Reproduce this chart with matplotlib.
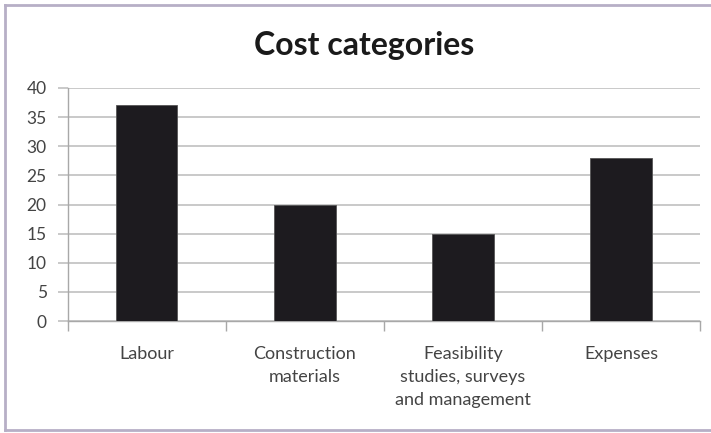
import matplotlib
matplotlib.use("Agg")
import matplotlib.pyplot as plt
from matplotlib.lines import Line2D

categories = ["Labour", "Construction\nmaterials",
              "Feasibility\nstudies, surveys\nand management", "Expenses"]
values = [37, 20, 15, 28]
y_ticks = [0, 5, 10, 15, 20, 25, 30, 35, 40]

W, H = 711, 433
fig = plt.figure(figsize=(W / 100, H / 100), dpi=100)
fig.patch.set_facecolor("white")

# plot area in pixel coordinates
left, right, top, bottom = 67.5, 700, 88, 321
ax = fig.add_axes([left / W, 1 - bottom / H, (right - left) / W, (bottom - top) / H])

x = list(range(len(categories)))
ax.bar(x, values, width=0.39, color="#1d1b1f", edgecolor="#555555", linewidth=0.6, zorder=3)

ax.set_xlim(-0.5, len(categories) - 0.5)
ax.set_ylim(0, 40)
ax.set_yticks(y_ticks)
ax.set_yticklabels([str(v) for v in y_ticks])
ax.yaxis.grid(True, color="#c9c9c9", linewidth=1.4, zorder=0)
ax.set_axisbelow(True)

for s in ["top", "right"]:
    ax.spines[s].set_visible(False)
for s in ["left", "bottom"]:
    ax.spines[s].set_color("#a8a8a8")
    ax.spines[s].set_linewidth(1.0)

label_color = "#444444"

# category labels at centers, tick marks at category boundaries
ax.set_xticks(x)
ax.set_xticklabels(categories, fontsize=13, color=label_color, family="Lato",
                   linespacing=1.55, va="top")
ax.tick_params(axis="x", length=0, pad=18)
ax.set_xticks([i - 0.5 for i in range(len(categories) + 1)], minor=True)
ax.tick_params(axis="x", which="minor", length=7, color="#a8a8a8", width=1.0)
ax.tick_params(axis="y", length=7, color="#c9c9c9", width=1.4, pad=8,
               labelsize=12.5, labelcolor=label_color)
for lbl in ax.get_yticklabels():
    lbl.set_family("Lato")

fig.text(364 / W, 1 - 45 / H, "Cost categories", ha="center", va="center",
         fontsize=23, fontweight="bold", family="Lato", color="#1a1a1a")

# chart frame
frame_color = "#b7afc6"
fig.add_artist(Line2D([5 / W, 5 / W], [1 - 5 / H, 1 - 430 / H], color=frame_color, lw=2.0,
                      transform=fig.transFigure))
fig.add_artist(Line2D([5 / W, 1.0], [1 - 5 / H, 1 - 5 / H], color=frame_color, lw=2.0,
                      transform=fig.transFigure))
fig.add_artist(Line2D([5 / W, 1.0], [1 - 430 / H, 1 - 430 / H], color=frame_color, lw=2.0,
                      transform=fig.transFigure))

fig.savefig("out.png", dpi=100)
